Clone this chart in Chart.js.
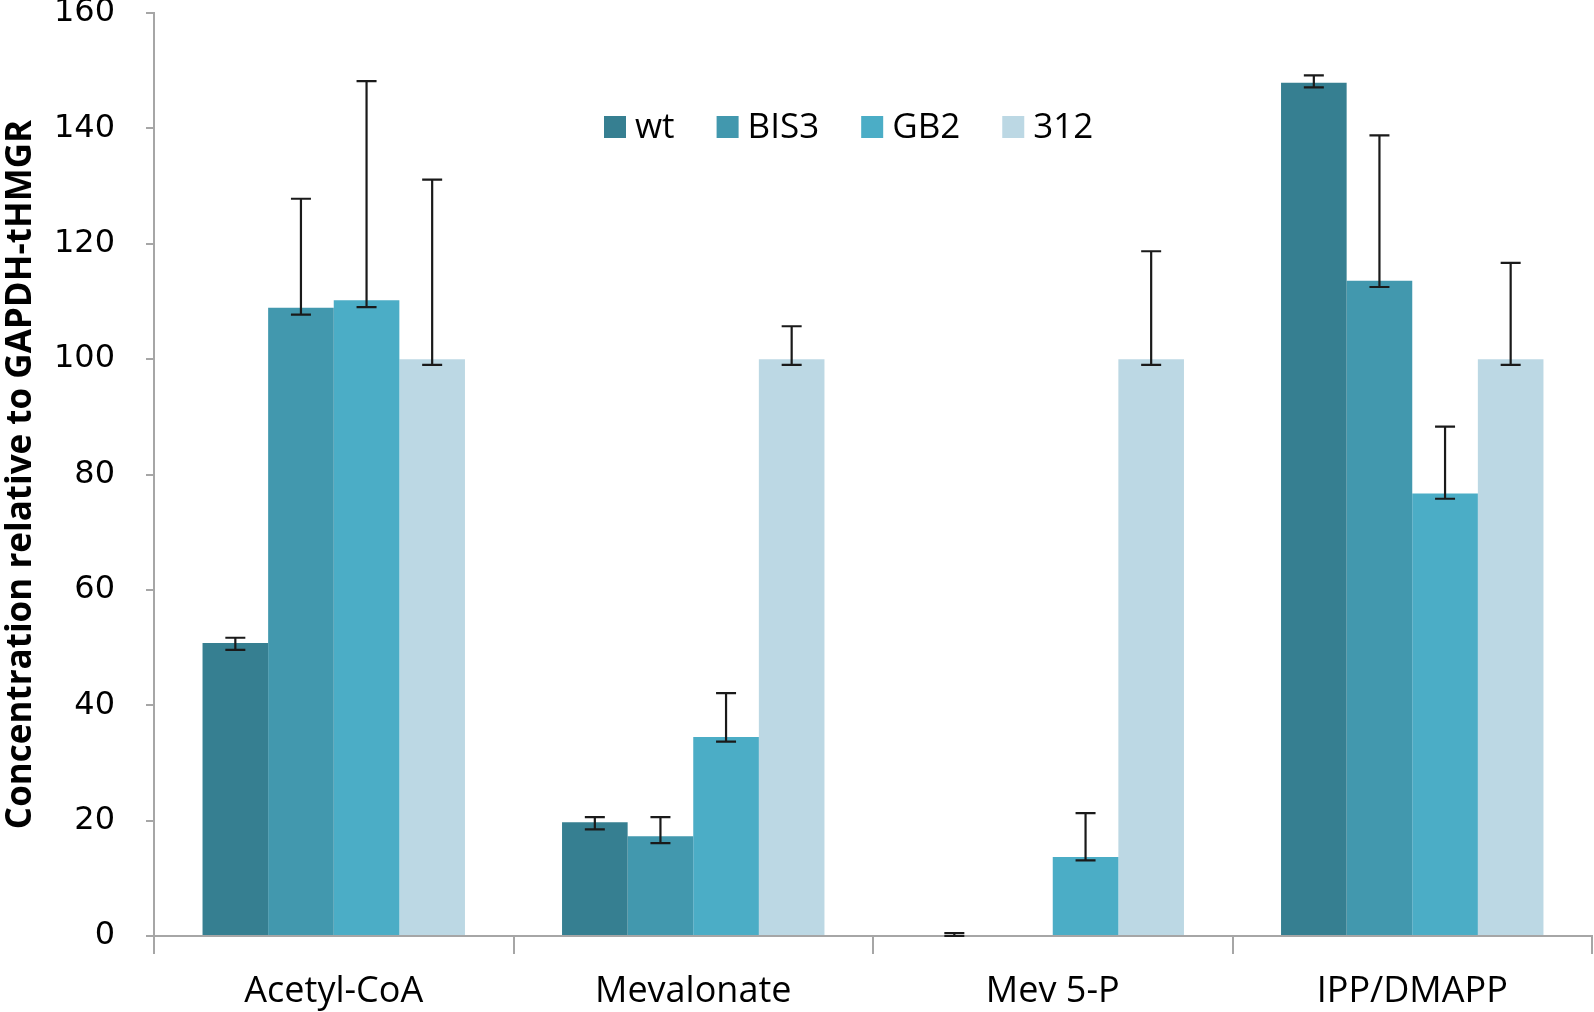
<!DOCTYPE html>
<html>
<head>
<meta charset="utf-8">
<script src="https://cdn.jsdelivr.net/npm/chart.js@4/dist/chart.umd.min.js"></script>
<style>
  html, body { margin: 0; padding: 0; background: #fff; }
  #wrap { width: 1594px; height: 1012px; }
</style>
</head>
<body>
<div id="wrap"><canvas id="metabolites" width="1594" height="1012"></canvas></div>
<script>
const categories = ['Acetyl-CoA', 'Mevalonate', 'Mev 5-P', 'IPP/DMAPP'];
const seriesNames = ['wt', 'BIS3', 'GB2', '312'];
const seriesColors = ['#367f91', '#4298ae', '#4badc6', '#bcd8e4'];

const wt = [50.8, 19.7, 0, 147.9];
const wtLow = [49.6, 18.5, 0, 147.1];
const wtHigh = [51.7, 20.6, 0.5, 149.2];

const bis3 = [108.9, 17.3, 0, 113.6];
const bis3Low = [107.7, 16.1, null, 112.5];
const bis3High = [127.8, 20.6, null, 138.8];

const gb2 = [110.2, 34.5, 13.7, 76.7];
const gb2Low = [109.0, 33.7, 13.1, 75.8];
const gb2High = [148.2, 42.1, 21.3, 88.3];

const s312 = [100, 100, 100, 100];
const s312Low = [99, 99, 99, 99];
const s312High = [131.1, 105.7, 118.7, 116.7];

const yTicks = [0, 20, 40, 60, 80, 100, 120, 140, 160];

const values = [wt, bis3, gb2, s312];
const lows = [wtLow, bis3Low, gb2Low, s312Low];
const highs = [wtHigh, bis3High, gb2High, s312High];

const labelFont = "'Open Sans', sans-serif";

// error bars drawn from the y scale
const errorBars = {
  id: 'errorBars',
  afterDatasetsDraw(chart) {
    const ctx = chart.ctx;
    const y = chart.scales.y;
    ctx.save();
    ctx.strokeStyle = '#1a1a1a';
    ctx.lineWidth = 2.2;
    chart.data.datasets.forEach((ds, di) => {
      const meta = chart.getDatasetMeta(di);
      meta.data.forEach((bar, i) => {
        const lo = ds.errLow[i], hi = ds.errHigh[i];
        if (lo == null || hi == null) return;
        const yl = y.getPixelForValue(lo), yh = y.getPixelForValue(hi);
        const x = bar.x;
        ctx.beginPath();
        ctx.moveTo(x, yl); ctx.lineTo(x, yh);
        ctx.moveTo(x - 10, yl); ctx.lineTo(x + 10, yl);
        ctx.moveTo(x - 10, yh); ctx.lineTo(x + 10, yh);
        ctx.stroke();
      });
    });
    ctx.restore();
  }
};

// legend inside plot area, like the original
const innerLegend = {
  id: 'innerLegend',
  afterDraw(chart, args, opts) {
    const ctx = chart.ctx;
    ctx.save();
    ctx.font = opts.font;
    ctx.textBaseline = 'middle';
    let x = opts.x;
    chart.data.datasets.forEach(ds => {
      ctx.fillStyle = ds.backgroundColor;
      ctx.fillRect(x, opts.y - opts.box / 2, opts.box, opts.box);
      x += opts.box + 9;
      ctx.fillStyle = '#000';
      ctx.fillText(ds.label, x, opts.y + 1);
      x += ctx.measureText(ds.label).width + opts.gap;
    });
    ctx.restore();
  }
};

const ctx = document.getElementById('metabolites').getContext('2d');
new Chart(ctx, {
  type: 'bar',
  data: {
    labels: categories,
    datasets: seriesNames.map((name, k) => ({
      label: name,
      data: values[k],
      errLow: lows[k],
      errHigh: highs[k],
      backgroundColor: seriesColors[k],
      barPercentage: 1,
      categoryPercentage: 0.73
    }))
  },
  options: {
    responsive: false,
    animation: false,
    layout: { padding: { top: 13, right: 2, left: 0, bottom: 0 } },
    plugins: {
      legend: { display: false },
      tooltip: { enabled: false },
      innerLegend: { x: 604, y: 127, box: 22, gap: 42, font: "35px " + labelFont }
    },
    scales: {
      x: {
        grid: { drawOnChartArea: false, offset: true, color: '#a6a6a6', lineWidth: 2, tickLength: 18 },
        border: { color: '#a6a6a6', width: 2 },
        ticks: { color: '#000', font: { family: labelFont, size: 36 }, padding: 16 },
        afterFit(scale) { scale.height = 76; }
      },
      y: {
        min: 0, max: 160,
        afterBuildTicks(scale) { scale.ticks = yTicks.map(v => ({ value: v })); },
        grid: { drawOnChartArea: false, color: '#a6a6a6', lineWidth: 2, tickLength: 8 },
        border: { color: '#a6a6a6', width: 2 },
        ticks: { color: '#000', font: { family: "'DejaVu Sans', sans-serif", size: 32 }, padding: 31 },
        title: {
          display: true,
          text: 'Concentration relative to GAPDH-tHMGR',
          color: '#000',
          font: { family: labelFont, size: 35, weight: 'bold' },
          padding: { top: 0, bottom: 0 }
        },
        afterFit(scale) {
          scale.width = 154;
          scale.paddingTop = 0;
          scale.paddingBottom = 0;
        }
      }
    }
  },
  plugins: [errorBars, innerLegend]
});
</script>
</body>
</html>
